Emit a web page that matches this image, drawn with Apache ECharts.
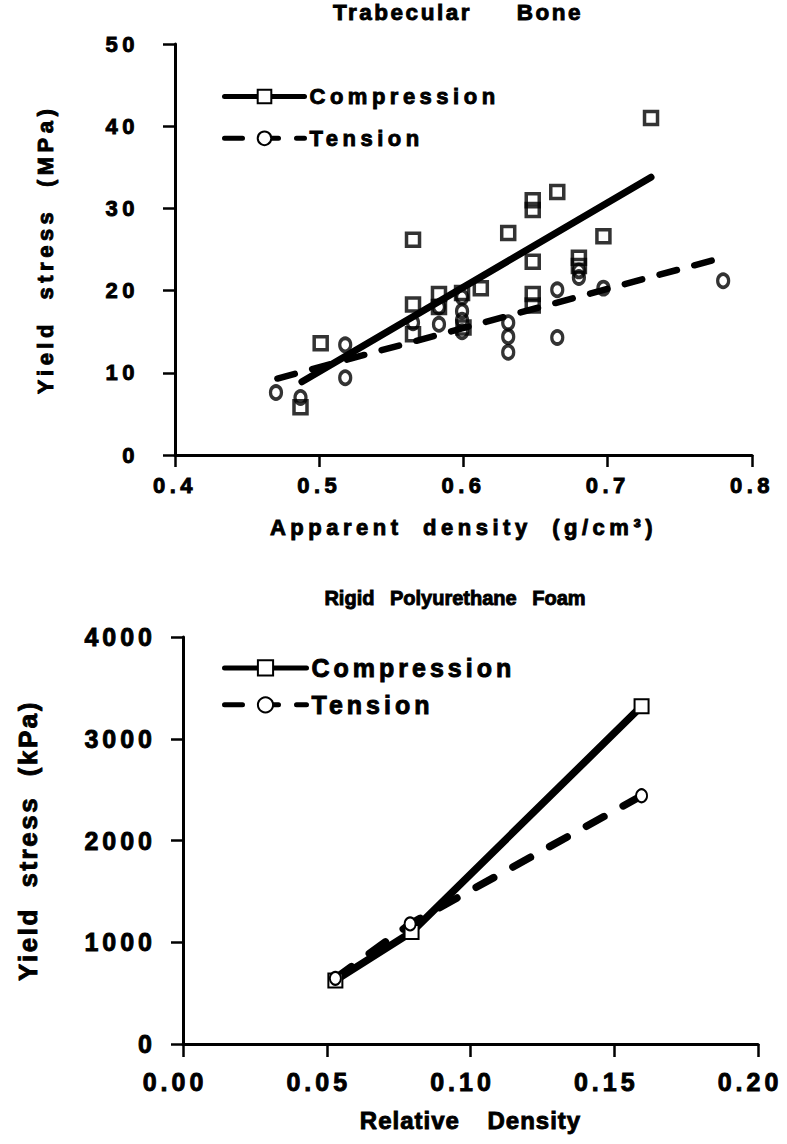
<!DOCTYPE html>
<html>
<head>
<meta charset="utf-8">
<script src="https://cdn.jsdelivr.net/npm/echarts@6/dist/echarts.min.js"></script>
<style>
  html, body { margin: 0; padding: 0; background: #fff; }
  #chart { width: 787px; height: 1144px; }
  /* tracking of the bold lettering, keyed on font size */
  #chart text[style*="22.5px"] { letter-spacing: 2.5px; word-spacing: 36px; }
  #chart text[style*="20px"]   { letter-spacing: 0px; word-spacing: 10px; }
  #chart text[style*="22px"]   { letter-spacing: 4.5px; word-spacing: 10px; }
  #chart text[style*="25px"]   { letter-spacing: 4px; }
  #chart text[style*="24px"]   { letter-spacing: 1px; word-spacing: 20px; }
  #chart text[style*="26px"]   { letter-spacing: 2.5px; word-spacing: 10px; }
</style>
</head>
<body>
<div id="chart"></div>
<script>
// ---- Trabecular bone: apparent density (g/cm3) vs yield stress (MPa) ----
const boneCompression = [
  [0.487, 5.8], [0.501, 13.6], [0.565, 26.2], [0.565, 18.3], [0.565, 14.7],
  [0.583, 19.6], [0.583, 18.0], [0.599, 19.7], [0.600, 15.5], [0.612, 20.3],
  [0.631, 27.0], [0.648, 31.0], [0.648, 29.8], [0.648, 23.5], [0.648, 19.6],
  [0.648, 18.2], [0.665, 32.0], [0.680, 24.0], [0.680, 23.0], [0.697, 26.6],
  [0.730, 41.0]
];
const boneTension = [
  [0.470, 7.6], [0.487, 7.0], [0.518, 13.4], [0.518, 9.4], [0.565, 16.1],
  [0.583, 15.9], [0.583, 18.0], [0.599, 19.2], [0.599, 17.5], [0.599, 16.4],
  [0.599, 15.0], [0.631, 16.1], [0.631, 14.4], [0.631, 12.5], [0.665, 20.1],
  [0.665, 14.3], [0.680, 21.6], [0.680, 22.4], [0.697, 20.3], [0.780, 21.2]
];
// least-squares fit lines (end points)
const boneCompressionFit = [[0.488, 8.9], [0.730, 33.8]];
const boneTensionFit = [[0.471, 9.3], [0.773, 23.7]];
const boneDensityRange = [0.4, 0.8, 0.1];
const boneStressRange = [0, 50, 10];

// ---- Rigid polyurethane foam: relative density vs yield stress (kPa) ----
const foamCompression = [[0.053, 625], [0.0795, 1100], [0.1595, 3320]];
const foamTension = [[0.053, 645], [0.079, 1180], [0.1595, 2440]];
const foamDensityRange = [0, 0.2, 0.05];
const foamStressRange = [0, 4000, 1000];

const seriesNames = ['Compression', 'Tension'];
const titles = ['Trabecular Bone', 'Rigid Polyurethane Foam'];

const FONT = "'Liberation Sans', Arial, Helvetica, sans-serif";
const INK = '#000';

// heavy bold lettering: bold face plus a thin outline
function txt(size, extra) {
  return Object.assign({
    fontSize: size, fontWeight: 'bold', fontFamily: FONT, color: INK,
    textBorderColor: INK, textBorderWidth: 0.9
  }, extra || {});
}

function axisCommon(range, decimals, labelSize, labelMargin, tickLen) {
  return {
    type: 'value',
    min: range[0], max: range[1], interval: range[2],
    axisLine: { onZero: false, lineStyle: { color: INK, width: 3 } },
    axisTick: { length: tickLen, lineStyle: { color: INK, width: 2.5 } },
    axisLabel: Object.assign(txt(labelSize), {
      margin: labelMargin,
      formatter: v => Number(v).toFixed(decimals)
    }),
    splitLine: { show: false }
  };
}

const chart = echarts.init(document.getElementById('chart'), null, {
  renderer: 'svg', width: 787, height: 1144
});

const hollow = { color: 'rgba(0,0,0,0)', borderColor: INK, borderWidth: 3.5 };

chart.setOption({
  animation: false,
  backgroundColor: '#fff',
  title: [
    { text: titles[0], left: 458, top: 1, padding: 0, textAlign: 'center',
      textStyle: txt(22.5) },
    { text: titles[1], left: 455, top: 588, padding: 0, textAlign: 'center',
      textStyle: txt(20) }
  ],
  grid: [
    { left: 175, top: 44, width: 577, height: 411 },
    { left: 183, top: 637, width: 575, height: 407 }
  ],
  legend: [
    { data: seriesNames, orient: 'vertical', left: 222, top: 85, padding: 0,
      itemWidth: 80, itemHeight: 17, itemGap: 19, selectedMode: false,
      lineStyle: { width: 5 }, textStyle: txt(22) },
    { data: seriesNames, orient: 'vertical', left: 222, top: 655, padding: 0,
      itemWidth: 82, itemHeight: 19, itemGap: 11, selectedMode: false,
      lineStyle: { width: 5 }, textStyle: txt(25) }
  ],
  xAxis: [
    Object.assign(axisCommon(boneDensityRange, 1, 22, 19, 12), {
      gridIndex: 0, name: 'Apparent density (g/cm³)', nameLocation: 'middle',
      nameGap: 61, nameTextStyle: txt(22)
    }),
    Object.assign(axisCommon(foamDensityRange, 2, 25, 25, 13), {
      gridIndex: 1, name: 'Relative Density', nameLocation: 'middle',
      nameGap: 64, nameTextStyle: txt(24)
    })
  ],
  yAxis: [
    Object.assign(axisCommon(boneStressRange, 0, 22, 36, 12), {
      gridIndex: 0, name: 'Yield stress (MPa)', nameLocation: 'middle',
      nameGap: 119, nameTextStyle: txt(22)
    }),
    Object.assign(axisCommon(foamStressRange, 0, 25, 27, 12), {
      gridIndex: 1, name: 'Yield stress (kPa)', nameLocation: 'middle',
      nameGap: 142, nameTextStyle: txt(26)
    })
  ],
  series: [
    // trabecular bone: fit lines first so the legend picks up line + marker icons
    { name: seriesNames[0], type: 'line', xAxisIndex: 0, yAxisIndex: 0,
      data: boneCompressionFit, symbol: 'emptyRect', showSymbol: false,
      lineStyle: { color: INK, width: 7, cap: 'round' }, itemStyle: { color: INK } },
    { name: seriesNames[1], type: 'line', xAxisIndex: 0, yAxisIndex: 0,
      data: boneTensionFit, symbol: 'emptyCircle', showSymbol: false,
      lineStyle: { color: INK, width: 6.5, type: [18, 18], cap: 'round' }, itemStyle: { color: INK } },
    { name: seriesNames[0], type: 'scatter', xAxisIndex: 0, yAxisIndex: 0,
      data: boneCompression, symbol: 'rect', symbolSize: 13, itemStyle: hollow },
    { name: seriesNames[1], type: 'scatter', xAxisIndex: 0, yAxisIndex: 0,
      data: boneTension, symbol: 'circle', symbolSize: [11, 13], itemStyle: hollow },
    // polyurethane foam
    { name: seriesNames[0], type: 'line', xAxisIndex: 1, yAxisIndex: 1,
      data: foamCompression, symbol: 'emptyRect', symbolSize: 14, showSymbol: true,
      lineStyle: { color: INK, width: 7.5, cap: 'round' },
      itemStyle: { color: INK, borderWidth: 3.5 } },
    { name: seriesNames[1], type: 'line', xAxisIndex: 1, yAxisIndex: 1,
      data: foamTension, symbol: 'emptyCircle', symbolSize: [11, 13], showSymbol: true,
      lineStyle: { color: INK, width: 7.5, type: [20, 22], cap: 'round' },
      itemStyle: { color: INK, borderWidth: 3.5 } }
  ]
});

// the foam tick labels sit a little left of their ticks
chart.setOption({ xAxis: [{}, { axisLabel: { padding: [0, 16, 0, 0] } }] });
</script>
</body>
</html>
